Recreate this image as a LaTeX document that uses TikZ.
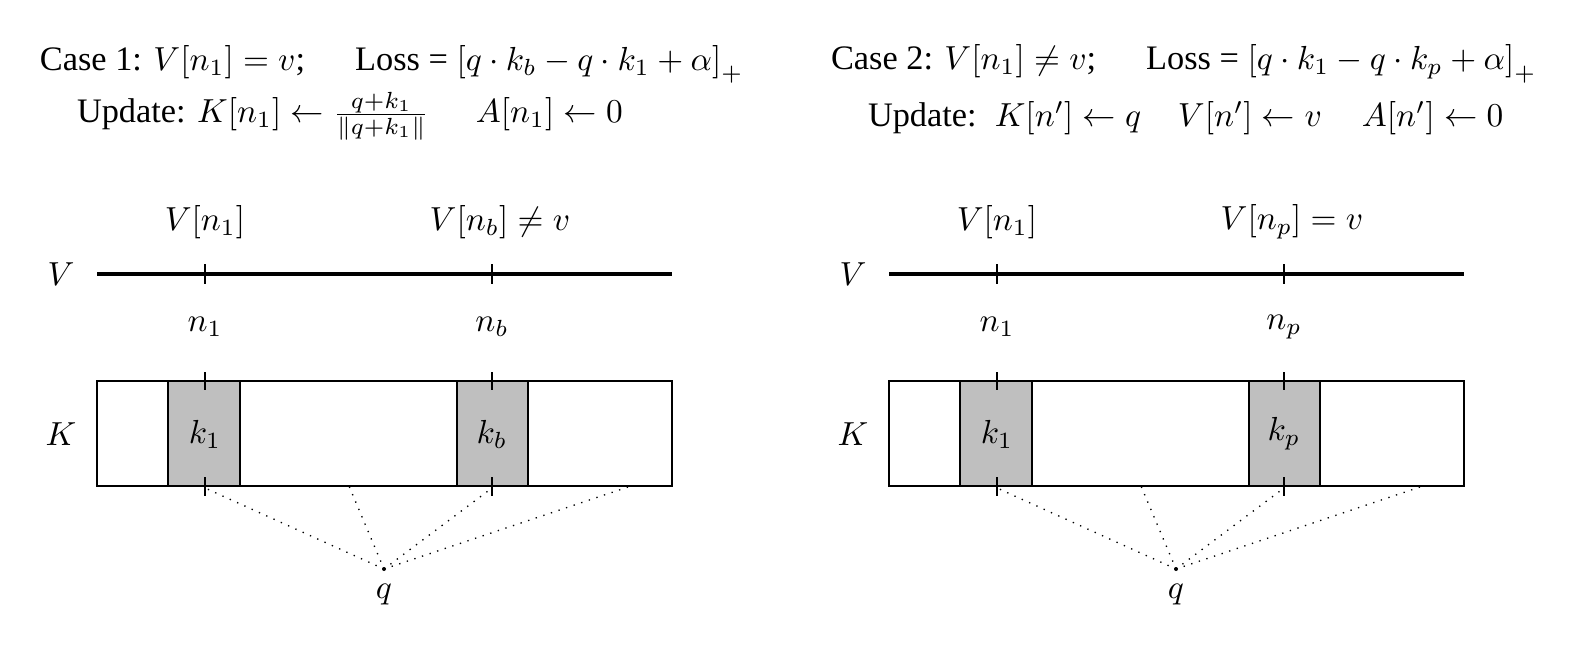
\documentclass[tikz,border=0pt]{standalone}
\usepackage{fontspec}
\setmainfont{Liberation Serif}
\usetikzlibrary{positioning}
\tikzset{
  vline/.style={line width=0.95pt},
  tick/.style={thin},
  keycell/.style={draw, fill=gray!50, semithick},
  keybox/.style={draw, semithick},
  qlink/.style={dotted},
  lab/.style={inner sep=1pt, font=\fontsize{10.3}{12}\selectfont}
}
\begin{document}
\begin{tikzpicture}[x=0.3pt, y=-0.3pt]
    \useasboundingbox (0,0) rectangle (1584,654);
    % headers
    \node[anchor=west, lab] (head1a) at (36,64) {Case 1: $V[n_1] = v$;\hspace{15pt}Loss = $\left[q\cdot k_b - q\cdot k_1 + \alpha\right]_+$};
    \node[anchor=west, lab] (head1b) at (73,116) {Update: $K[n_1] \leftarrow \frac{q+k_1}{\|q+k_1\|}$\hspace{14pt}$A[n_1] \leftarrow 0$};
    \node[anchor=west, lab] (head2a) at (827,64) {Case 2: $V[n_1] \neq v$;\hspace{15pt}Loss = $\left[q\cdot k_1 - q\cdot k_p + \alpha\right]_+$};
    \node[anchor=west, lab] (head2b) at (864,118) {Update:\hspace{2pt} $K[n'] \leftarrow q$\hspace{11pt}$V[n'] \leftarrow v$\hspace{12pt}$A[n'] \leftarrow 0$};
    % case 1: value row
    \node (vlabA) at (61,274) {$V$};
    \draw[vline] (97,274) -- (672,274);
    \draw[tick] (205,264) -- (205,284);
    \draw[tick] (492,264) -- (492,284);
    \node (vnA1) at (205,222) {$V[n_1]$};
    \node (vnAb) at (500,222) {$V[n_b] \neq v$};
    \node (nA1) at (205,327) {$n_1$};
    \node (nAb) at (492,327) {$n_b$};
    % case 1: key row
    \node (klabA) at (61,434) {$K$};
    \draw[keybox] (97,381) rectangle (672,486);
    \draw[keycell] (168,381) rectangle (240,486);
    \draw[keycell] (457,381) rectangle (528,486);
    \node (kA1) at (205,434) {$k_1$};
    \node (kAb) at (492,434) {$k_b$};
    \draw[tick] (205,372) -- (205,390);
    \draw[tick] (492,372) -- (492,390);
    \draw[tick] (205,477) -- (205,496);
    \draw[tick] (492,477) -- (492,496);
    % case 1: query
    \coordinate (qA) at (384,569);
    \fill (qA) circle (0.6pt);
    \node[below=1pt of qA] (qlabA) {$q$};
    \coordinate (eA1) at (205,488);
    \coordinate (eA2) at (349,486);
    \coordinate (eA3) at (492,488);
    \coordinate (eA4) at (631,486);
    \draw[qlink] (qA) -- (eA1);
    \draw[qlink] (qA) -- (eA2);
    \draw[qlink] (qA) -- (eA3);
    \draw[qlink] (qA) -- (eA4);
    % case 2: value row
    \node (vlabB) at (853,274) {$V$};
    \draw[vline] (889,274) -- (1464,274);
    \draw[tick] (997,264) -- (997,284);
    \draw[tick] (1284,264) -- (1284,284);
    \node (vnB1) at (997,222) {$V[n_1]$};
    \node (vnBp) at (1292,222) {$V[n_p] = v$};
    \node (nB1) at (997,327) {$n_1$};
    \node (nBp) at (1284,327) {$n_p$};
    % case 2: key row
    \node (klabB) at (853,434) {$K$};
    \draw[keybox] (889,381) rectangle (1464,486);
    \draw[keycell] (960,381) rectangle (1032,486);
    \draw[keycell] (1249,381) rectangle (1320,486);
    \node (kB1) at (997,434) {$k_1$};
    \node (kBp) at (1284,434) {$k_p$};
    \draw[tick] (997,372) -- (997,390);
    \draw[tick] (1284,372) -- (1284,390);
    \draw[tick] (997,477) -- (997,496);
    \draw[tick] (1284,477) -- (1284,496);
    % case 2: query
    \coordinate (qB) at (1176,569);
    \fill (qB) circle (0.6pt);
    \node[below=1pt of qB] (qlabB) {$q$};
    \coordinate (eB1) at (997,488);
    \coordinate (eB2) at (1141,486);
    \coordinate (eB3) at (1284,488);
    \coordinate (eB4) at (1423,486);
    \draw[qlink] (qB) -- (eB1);
    \draw[qlink] (qB) -- (eB2);
    \draw[qlink] (qB) -- (eB3);
    \draw[qlink] (qB) -- (eB4);
\end{tikzpicture}
\end{document}
